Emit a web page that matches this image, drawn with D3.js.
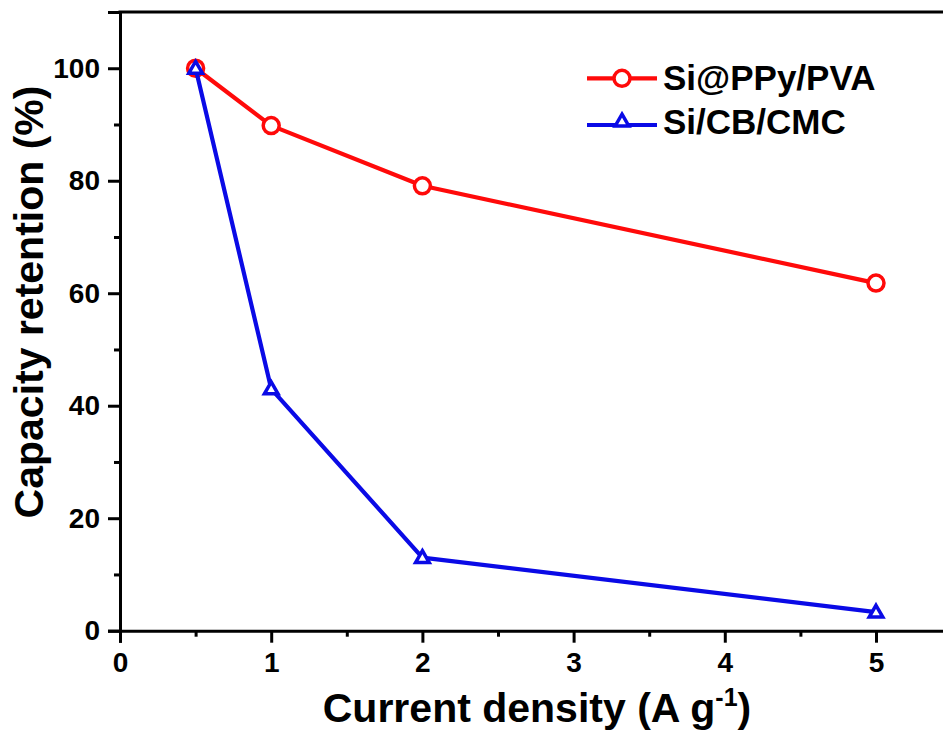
<!DOCTYPE html>
<html>
<head>
<meta charset="utf-8">
<script src="https://cdn.jsdelivr.net/npm/d3@7/dist/d3.min.js"></script>
<style>
  html, body { margin: 0; padding: 0; background: #fff; overflow: hidden; }
  svg { display: block; font-family: "Liberation Sans", Arial, sans-serif; font-weight: bold; }
</style>
</head>
<body>
<svg id="chart" width="943" height="735"></svg>
<script>
// Capacity retention at different current densities
const currentDensity = [0.5, 1, 2, 5];
const siPPyPVA = [100, 89.8, 79.1, 61.8];
const siCBCMC = [100, 43, 13, 3.3];

const xMajorTicks = [0, 1, 2, 3, 4, 5];
const xMinorTicks = [0.5, 1.5, 2.5, 3.5, 4.5, 5.5];
const yMajorTicks = [0, 20, 40, 60, 80, 100];
const yMinorTicks = [10, 30, 50, 70, 90];

const seriesNames = ["Si@PPy/PVA", "Si/CB/CMC"];
const seriesColors = ["#ff0a0a", "#0a0ae6"];

const svg = d3.select("#chart");
const plotLeft = 120, plotRight = 951.6, plotTop = 12, plotBottom = 630.7;

const x = d3.scaleLinear().domain([0, 5.5]).range([plotLeft, plotRight]);
const y = d3.scaleLinear().domain([0, 110]).range([plotBottom, plotTop]);

const axisStroke = 3;

// x axis: major + minor ticks
const gx = svg.append("g").attr("transform", `translate(0,${plotBottom})`);
gx.call(d3.axisBottom(x).tickValues(xMajorTicks).tickSize(12).tickPadding(9).tickFormat(d3.format("d")));
gx.append("g").call(d3.axisBottom(x).tickValues(xMinorTicks).tickSize(6).tickFormat(""))
  .select(".domain").remove();

// y axis: major + minor ticks
const gy = svg.append("g").attr("transform", `translate(${plotLeft},0)`);
gy.call(d3.axisLeft(y).tickValues(yMajorTicks).tickSize(12).tickPadding(8).tickFormat(d3.format("d")));
gy.append("g").call(d3.axisLeft(y).tickValues(yMinorTicks).tickSize(6).tickFormat(""))
  .select(".domain").remove();

svg.selectAll(".domain").attr("stroke", "#000").attr("stroke-width", axisStroke);
svg.selectAll(".tick line").attr("stroke", "#000").attr("stroke-width", axisStroke);
svg.selectAll(".tick text").attr("fill", "#000").attr("font-size", 28)
  .attr("font-family", "Liberation Sans, Arial, sans-serif").attr("font-weight", "bold");

// top frame line
svg.append("line")
  .attr("x1", plotLeft - axisStroke / 2).attr("x2", plotRight)
  .attr("y1", plotTop).attr("y2", plotTop)
  .attr("stroke", "#000").attr("stroke-width", axisStroke);

// series
const line = d3.line().x(d => x(d[0])).y(d => y(d[1]));
const triangle = d3.symbol().type(d3.symbolTriangle).size(80);

function drawSeries(values, color, marker) {
  const pts = currentDensity.map((c, i) => [c, values[i]]);
  svg.append("path").datum(pts)
    .attr("d", line).attr("fill", "none")
    .attr("stroke", color).attr("stroke-width", 4.2).attr("stroke-linejoin", "round");
  const g = svg.append("g");
  if (marker === "circle") {
    g.selectAll("circle").data(pts).join("circle")
      .attr("cx", d => x(d[0])).attr("cy", d => y(d[1])).attr("r", 8)
      .attr("fill", "#fff").attr("stroke", color).attr("stroke-width", 3.5);
  } else {
    g.selectAll("path").data(pts).join("path")
      .attr("d", triangle)
      .attr("transform", d => `translate(${x(d[0])},${y(d[1]) + 1})`)
      .attr("fill", "#fff").attr("stroke", color).attr("stroke-width", 3.5);
  }
}
drawSeries(siPPyPVA, seriesColors[0], "circle");
drawSeries(siCBCMC, seriesColors[1], "triangle");

// legend
const legend = svg.append("g");
const legendRows = [
  { name: seriesNames[0], color: seriesColors[0], marker: "circle", ly: 78.3, ty: 89.5 },
  { name: seriesNames[1], color: seriesColors[1], marker: "triangle", ly: 125, ty: 133.5 }
];
legendRows.forEach(r => {
  legend.append("line").attr("x1", 587).attr("x2", 657).attr("y1", r.ly).attr("y2", r.ly)
    .attr("stroke", r.color).attr("stroke-width", 4.2);
  if (r.marker === "circle") {
    legend.append("circle").attr("cx", 622).attr("cy", r.ly).attr("r", 8)
      .attr("fill", "#fff").attr("stroke", r.color).attr("stroke-width", 3.5);
  } else {
    legend.append("path").attr("d", triangle).attr("transform", `translate(622,${r.ly - 3})`)
      .attr("fill", "#fff").attr("stroke", r.color).attr("stroke-width", 3.5);
  }
  legend.append("text").attr("x", 663).attr("y", r.ty).attr("font-size", 35)
    .attr("fill", "#000").text(r.name);
});

// axis titles
const xt = svg.append("text").attr("x", 537).attr("y", 722).attr("text-anchor", "middle")
  .attr("font-size", 41).attr("fill", "#000");
xt.append("tspan").text("Current density (A g");
xt.append("tspan").attr("font-size", 25).attr("dy", -16).text("-1");
xt.append("tspan").attr("dy", 16).text(")");

svg.append("text").attr("transform", "translate(43,302) rotate(-90)")
  .attr("text-anchor", "middle").attr("font-size", 41).attr("fill", "#000")
  .text("Capacity retention (%)");
</script>
</body>
</html>
